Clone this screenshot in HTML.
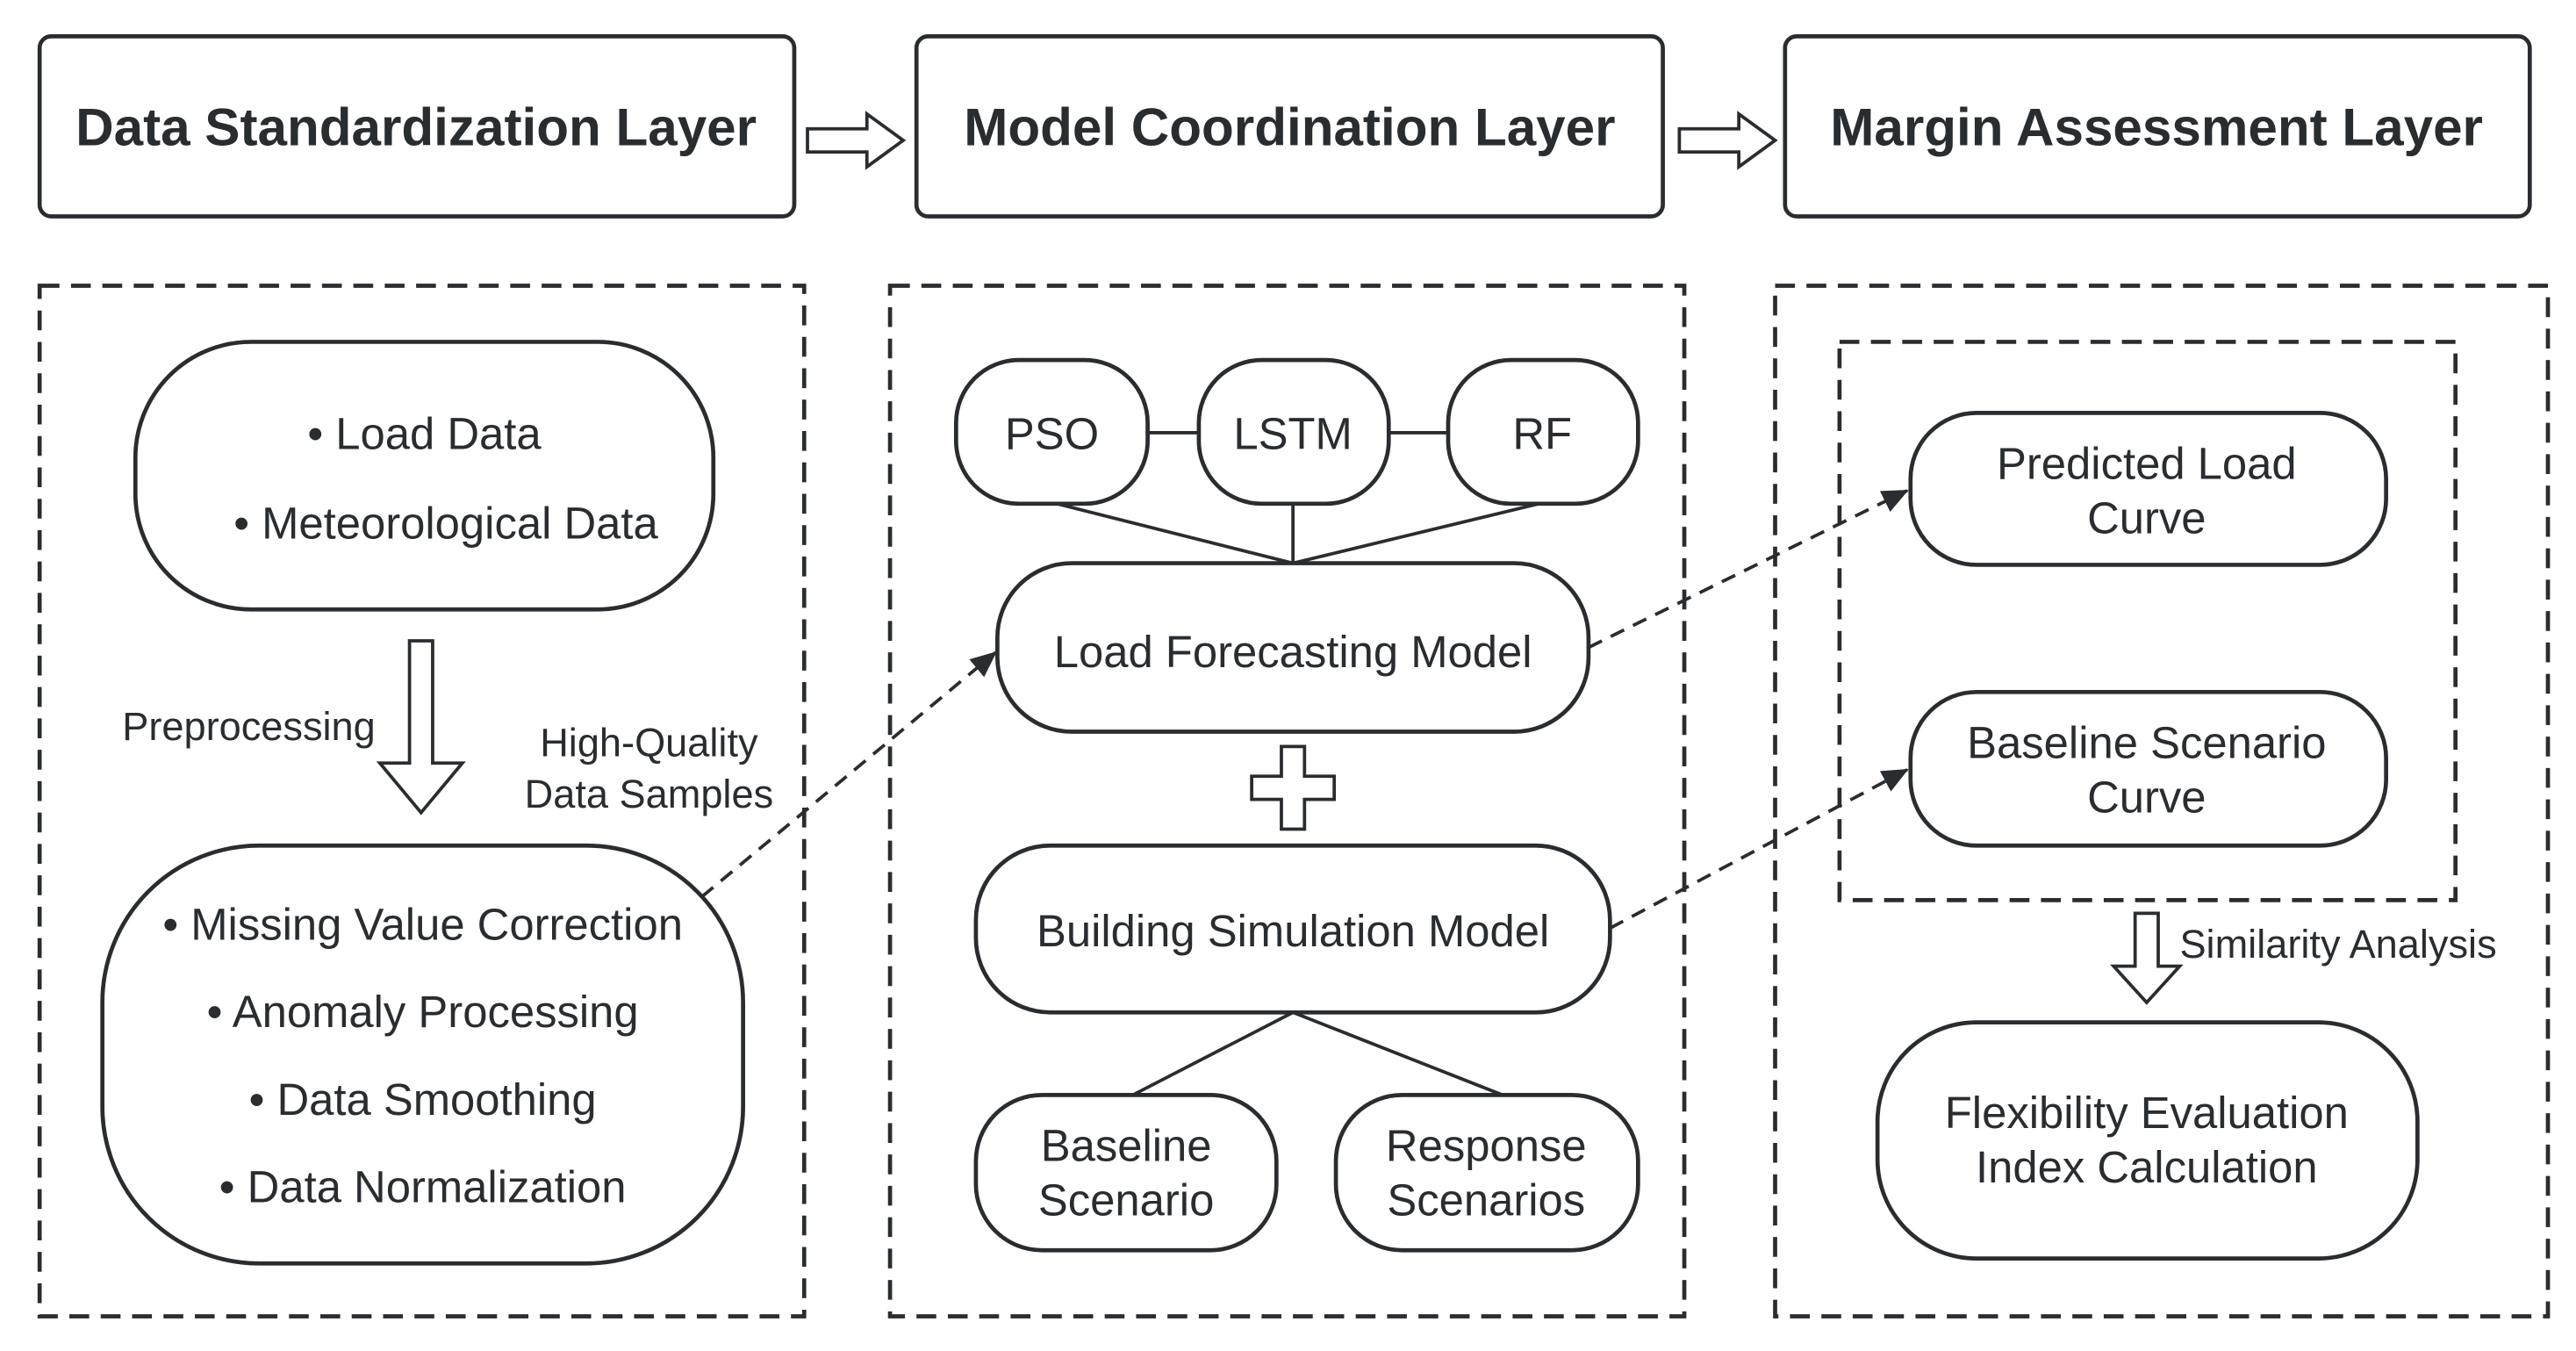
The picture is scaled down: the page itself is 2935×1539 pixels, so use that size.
<!DOCTYPE html>
<html><head><meta charset="utf-8"><style>html,body{margin:0;padding:0;background:#fff}svg{display:block}</style></head>
<body>
<svg width="2935" height="1539" viewBox="0 0 1560 818" preserveAspectRatio="none" xmlns="http://www.w3.org/2000/svg" font-family="'Liberation Sans', sans-serif" fill="none" stroke="#2a2d30">
<defs><marker id="ah" markerWidth="16" markerHeight="16" refX="15" refY="8" orient="auto" markerUnits="userSpaceOnUse" viewBox="0 0 16 16"><path d="M0,1 L16,8 L0,15 z" fill="#2a2d30" stroke="none"/></marker></defs>
<g stroke-width="2.5">
<rect x="24" y="22" width="457" height="109" rx="7"/>
<rect x="555" y="22" width="452" height="109" rx="7"/>
<rect x="1081" y="22" width="451" height="109" rx="7"/>
</g>
<g fill="#2a2d30" stroke="none" font-weight="bold" font-size="32" text-anchor="middle">
<text x="252" y="88">Data Standardization Layer</text>
<text x="781" y="88">Model Coordination Layer</text>
<text x="1306" y="88">Margin Assessment Layer</text>
</g>
<g stroke-width="2">
<path d="M489,78 H525 V69 L547,85 L525,101 V92 H489 Z"/>
<path d="M1017,78 H1053 V69 L1075,85 L1053,101 V92 H1017 Z"/>
</g>
<g stroke-width="2.5" stroke-dasharray="12,7">
<rect x="24" y="173" width="463" height="624"/>
<rect x="539" y="173" width="481" height="624"/>
<rect x="1075" y="173" width="468" height="624"/>
<rect x="1114" y="207" width="373" height="338"/>
</g>
<g stroke-width="2.5">
<rect x="82" y="207" width="350" height="162" rx="70"/>
<rect x="62" y="512" width="388" height="253" rx="95"/>
<rect x="579" y="218" width="116" height="87" rx="38"/>
<rect x="726" y="218" width="115" height="87" rx="38"/>
<rect x="877" y="218" width="115" height="87" rx="38"/>
<rect x="604" y="341" width="358" height="102" rx="45"/>
<rect x="591" y="512" width="384" height="101" rx="45"/>
<rect x="591" y="663" width="182" height="94" rx="40"/>
<rect x="809" y="663" width="183" height="94" rx="40"/>
<rect x="1157" y="250" width="288" height="92" rx="40"/>
<rect x="1157" y="419" width="288" height="93" rx="40"/>
<rect x="1137" y="619" width="327" height="143" rx="60"/>
</g>
<g stroke-width="2">
<path d="M695,262 H726 M841,262 H877 M640,305 L783,341 M783,305 V341 M932,305 L783,341 M783,613 L686,663 M783,613 L910,663"/>
<path d="M248,388 H262 V462 H280 L255,492 L230,462 H248 Z"/>
<path d="M776,452 H790 V470 H808 V484 H790 V502 H776 V484 H758 V470 H776 Z"/>
<path d="M1293,553 H1307 V585 H1320 L1300,607 L1280,585 H1293 Z"/>
</g>
<g stroke-width="2" stroke-dasharray="9,6" marker-end="url(#ah)">
<line x1="425" y1="543" x2="603" y2="395"/>
<line x1="962" y1="392" x2="1155" y2="297"/>
<line x1="975" y1="562" x2="1155" y2="466"/>
</g>
<g fill="#2a2d30" stroke="none" font-size="27" text-anchor="middle">
<text x="257" y="272">•  Load Data</text>
<text x="270" y="326">•  Meteorological Data</text>
<text x="256" y="569">•  Missing Value Correction</text>
<text x="256" y="622">•  Anomaly Processing</text>
<text x="256" y="675">•  Data Smoothing</text>
<text x="256" y="728">•  Data Normalization</text>
<text x="637" y="272">PSO</text>
<text x="783" y="272">LSTM</text>
<text x="934" y="272">RF</text>
<text x="783" y="404">Load Forecasting Model</text>
<text x="783" y="573">Building Simulation Model</text>
<text x="682" y="703">Baseline</text>
<text x="682" y="736">Scenario</text>
<text x="900" y="703">Response</text>
<text x="900" y="736">Scenarios</text>
<text x="1300" y="290">Predicted Load</text>
<text x="1300" y="323">Curve</text>
<text x="1300" y="459">Baseline Scenario</text>
<text x="1300" y="492">Curve</text>
<text x="1300" y="683">Flexibility Evaluation</text>
<text x="1300" y="716">Index Calculation</text>
</g>
<g fill="#2a2d30" stroke="none" font-size="24">
<text x="74" y="448">Preprocessing</text>
<text x="393" y="458" text-anchor="middle">High-Quality</text>
<text x="393" y="489" text-anchor="middle">Data Samples</text>
<text x="1320" y="580">Similarity Analysis</text>
</g>
</svg>
</body></html>
